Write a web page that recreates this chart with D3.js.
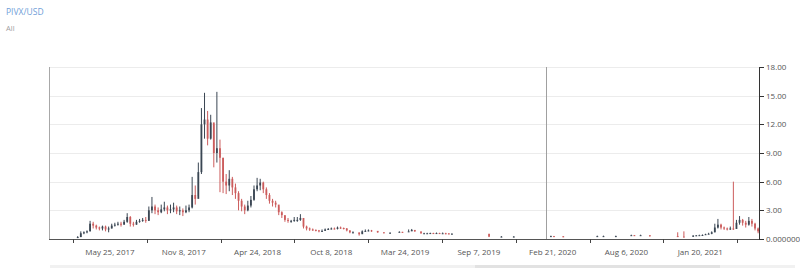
<!DOCTYPE html>
<html><head><meta charset="utf-8">
<script src="https://cdn.jsdelivr.net/npm/d3@7"></script>
<style>body{margin:0;background:#fff;}svg{display:block;font-family:"Open Sans",sans-serif;}</style>
</head><body>
<svg id="c" width="800" height="268"></svg>
<script>
const N = null;
const title = "PIVX/USD";
const rangeLabel = "All";
const firstWeek = "2017-03-13";
const closes = [
0.2,0.6,0.7,0.8,1.6,1.4,1.2,1.1,1.3,1.0,
1.1,1.4,1.5,1.6,1.5,1.8,2.3,1.6,1.5,1.8,
1.9,2.0,1.9,3.0,3.4,3.0,2.8,3.1,3.3,3.0,
3.1,3.3,2.9,3.0,2.8,3.0,3.3,4.6,4.2,7.0,
12.0,12.5,10.5,12.2,9.0,9.5,8.5,6.0,5.6,6.3,
5.4,4.8,4.0,3.4,3.0,3.5,4.1,5.2,5.6,5.9,
5.2,4.6,4.0,3.8,3.6,2.8,2.5,2.0,1.9,1.9,
2.0,2.0,2.2,1.3,1.1,1.0,0.95,0.9,0.8,0.85,
1.0,1.05,1.1,1.05,1.2,1.15,1.1,0.9,0.7,0.7,
N,0.5,0.8,0.85,0.9,0.85,N,0.7,N,0.65,
N,0.65,N,N,0.75,0.7,N,0.8,0.95,0.8,
N,0.6,0.6,0.6,0.62,0.6,0.62,0.6,0.6,0.58,
0.55,0.55,N,N,N,N,N,N,N,N,
N,N,N,0.25,N,N,N,0.25,N,N,
N,0.25,N,N,N,N,N,N,N,N,
N,N,N,0.3,0.28,N,N,0.25,N,N,
N,N,N,N,N,N,N,N,0.3,N,
0.3,N,N,N,0.3,N,N,N,N,0.4,
0.38,N,0.4,N,N,0.3,N,N,N,N,
N,N,N,N,0.25,N,0.22,N,N,0.35,
0.38,0.4,0.42,0.5,0.55,0.7,1.2,1.5,1.2,1.1,
1.0,1.1,1.05,1.7,2.0,1.7,1.5,1.9,1.6,1.1,0.8];
const highs = [
0.3,0.8,0.8,0.9,1.9,1.8,1.5,1.3,1.4,1.4,
1.3,1.6,1.7,1.8,1.8,2.0,2.7,2.4,1.8,2.0,
2.1,2.2,2.3,3.4,4.4,3.6,3.3,3.6,3.9,3.5,
3.6,3.8,3.5,3.4,3.2,3.5,3.6,6.5,5.6,8.0,
13.7,15.3,13.4,13.0,12.0,15.4,10.4,8.5,6.8,7.2,
6.5,5.8,5.0,4.2,3.6,4.0,4.5,5.6,6.4,6.3,
6.0,5.4,4.8,4.2,4.0,3.4,2.9,2.4,2.2,2.0,
2.3,2.3,2.6,2.1,1.4,1.2,1.1,1.0,0.95,1.0,
1.1,1.15,1.2,1.2,1.3,1.3,1.2,1.15,0.9,0.8,
N,0.6,0.9,1.0,1.0,0.95,N,0.75,N,0.7,
N,0.7,N,N,0.8,0.75,N,1.0,1.05,0.9,
N,0.65,0.65,0.65,0.66,0.65,0.68,0.65,0.68,0.65,
0.62,0.6,N,N,N,N,N,N,N,N,
N,N,N,0.3,N,N,N,0.3,N,N,
N,0.3,N,N,N,N,N,N,N,N,
N,N,N,0.35,0.32,N,N,0.3,N,N,
N,N,N,N,N,N,N,N,0.35,N,
0.35,N,N,N,0.35,N,N,N,N,0.45,
0.42,N,0.45,N,N,0.35,N,N,N,N,
N,N,N,N,0.7,N,0.8,N,N,0.4,
0.42,0.45,0.48,0.55,0.65,0.8,1.6,2.1,1.6,1.3,
1.2,1.3,6.0,2.0,2.4,2.1,1.9,2.3,2.1,1.7,1.2];
const lows = [
0.1,0.2,0.5,0.6,0.8,1.1,1.0,0.9,0.9,0.8,
0.7,1.1,1.3,1.4,1.3,1.5,1.7,1.3,1.3,1.5,
1.7,1.8,1.7,1.9,2.7,2.6,2.5,2.7,2.9,2.6,
2.7,2.8,2.6,2.5,2.4,2.7,2.8,3.2,3.6,4.5,
6.8,10.5,9.8,10.4,7.5,8.0,4.9,4.8,4.7,5.0,
4.6,4.2,3.0,2.9,2.6,2.9,3.3,4.0,5.0,5.1,
4.8,4.2,3.7,3.4,3.3,2.5,2.2,1.8,1.7,1.7,
1.8,1.8,1.9,1.1,0.9,0.85,0.85,0.8,0.7,0.75,
0.85,0.95,1.0,1.0,1.0,1.05,1.0,0.8,0.6,0.6,
N,0.35,0.6,0.75,0.8,0.75,N,0.65,N,0.6,
N,0.6,N,N,0.7,0.65,N,0.75,0.85,0.75,
N,0.55,0.55,0.55,0.55,0.55,0.55,0.55,0.55,0.5,
0.5,0.5,N,N,N,N,N,N,N,N,
N,N,N,0.2,N,N,N,0.2,N,N,
N,0.2,N,N,N,N,N,N,N,N,
N,N,N,0.25,0.24,N,N,0.2,N,N,
N,N,N,N,N,N,N,N,0.25,N,
0.25,N,N,N,0.25,N,N,N,N,0.35,
0.34,N,0.35,N,N,0.25,N,N,N,N,
N,N,N,N,0.22,N,0.2,N,N,0.3,
0.33,0.36,0.38,0.42,0.5,0.5,0.7,1.1,1.0,0.95,
0.9,0.95,0.95,1.3,1.5,1.4,1.2,1.4,1.3,0.9,0.6];
const xTickLabels = ["May 25, 2017","Nov 8, 2017","Apr 24, 2018","Oct 8, 2018","Mar 24, 2019","Sep 7, 2019","Feb 21, 2020","Aug 6, 2020","Jan 20, 2021"];
const yTicks = [0,3,6,9,12,15,18];
const yTickLabels = ["0.000000","3.00","6.00","9.00","12.00","15.00","18.00"];
const xDomain = ["2017-01-07","2021-06-02"];
const markerDate = "2020-02-06";

const svg = d3.select("#c");
const pIso = d3.utcParse("%Y-%m-%d");
const pLab = d3.utcParse("%b %d, %Y");
const L = 49, R = 759, T = 67, B = 239;
const x = d3.scaleUtc().domain(xDomain.map(pIso)).range([L, R]);
const y = d3.scaleLinear().domain([0, 18]).range([B, T]);

// title
svg.append("text").attr("x", 6).attr("y", 15).attr("font-size", 8.5).attr("fill", "#6fa0d8").text(title);
svg.append("text").attr("x", 6).attr("y", 31).attr("font-size", 7.5).attr("fill", "#a0a0a0").text(rangeLabel);

// grid
svg.append("g").selectAll("line").data(yTicks.slice(1)).join("line")
  .attr("x1", L).attr("x2", R).attr("y1", d => Math.round(y(d)) + 0.5).attr("y2", d => Math.round(y(d)) + 0.5)
  .attr("stroke", "#ececec").attr("stroke-width", 1);

// left frame line
svg.append("line").attr("x1", L + 0.5).attr("x2", L + 0.5).attr("y1", T).attr("y2", B).attr("stroke", "#a8a8a8");

// marker line
svg.append("line").attr("x1", Math.round(x(pIso(markerDate))) + 0.5).attr("x2", Math.round(x(pIso(markerDate))) + 0.5)
  .attr("y1", T).attr("y2", B).attr("stroke", "#a0a0a0");

// candles
const t0 = pIso(firstWeek);
const candles = [];
let prev = null;
closes.forEach((c, i) => {
  if (c === null) return;
  const date = d3.utcDay.offset(t0, 7 * i);
  const o = prev === null ? c : prev;
  candles.push({date, o, c, h: highs[i], l: lows[i]});
  prev = c;
});
const up = "#3a4653", down = "#cc5c5c";
const g = svg.append("g");
g.selectAll("line.w").data(candles).join("line").attr("class", "w")
  .attr("x1", d => x(d.date)).attr("x2", d => x(d.date))
  .attr("y1", d => y(d.h)).attr("y2", d => y(d.l))
  .attr("stroke", d => d.c >= d.o ? up : down).attr("stroke-width", 1);
g.selectAll("rect").data(candles).join("rect")
  .attr("x", d => x(d.date) - 0.9).attr("width", 1.8)
  .attr("y", d => y(Math.max(d.o, d.c)))
  .attr("height", d => Math.max(1, Math.abs(y(d.o) - y(d.c))))
  .attr("fill", d => d.c >= d.o ? up : down);

// bottom axis
const labDates = xTickLabels.map(pLab);
const mids = [];
for (let i = 0; i < labDates.length; i++) {
  const a = labDates[i], b = labDates[i + 1] || d3.utcDay.offset(a, 167);
  mids.push(new Date((+a + +b) / 2));
}
mids.unshift(new Date(+labDates[0] - (+labDates[1] - +labDates[0]) / 2));
const xa = svg.append("g").attr("transform", `translate(0,${B})`);
xa.append("line").attr("x1", L).attr("x2", R).attr("y1", 0.5).attr("y2", 0.5).attr("stroke", "#555");
xa.selectAll("line.t").data(mids.filter(d => x(d) > L && x(d) < R)).join("line").attr("class", "t")
  .attr("x1", d => Math.round(x(d)) + 0.5).attr("x2", d => Math.round(x(d)) + 0.5).attr("y1", 0).attr("y2", 4).attr("stroke", "#444");
xa.selectAll("text").data(labDates).join("text")
  .attr("x", d => x(d)).attr("y", 16).attr("text-anchor", "middle").attr("font-size", 8).attr("fill", "#555")
  .text((d, i) => xTickLabels[i]);

// right axis
const ya = svg.append("g").attr("transform", `translate(${R},0)`);
ya.append("line").attr("x1", 0.5).attr("x2", 0.5).attr("y1", T).attr("y2", B).attr("stroke", "#333");
ya.selectAll("line.t").data(yTicks).join("line").attr("class", "t")
  .attr("x1", 0).attr("x2", 5).attr("y1", d => Math.round(y(d)) + 0.5).attr("y2", d => Math.round(y(d)) + 0.5).attr("stroke", "#333");
ya.selectAll("text").data(yTicks).join("text")
  .attr("x", 7).attr("y", d => y(d) + 3).attr("font-size", 8).attr("fill", "#555")
  .text((d, i) => yTickLabels[i]);

// navigator strip
svg.append("rect").attr("x", 50).attr("y", 265).attr("width", 745).attr("height", 3).attr("fill", "#f1f1f1");
svg.append("rect").attr("x", 475).attr("y", 265).attr("width", 245).attr("height", 3).attr("fill", "#e2e2e2");
</script>
</body></html>
